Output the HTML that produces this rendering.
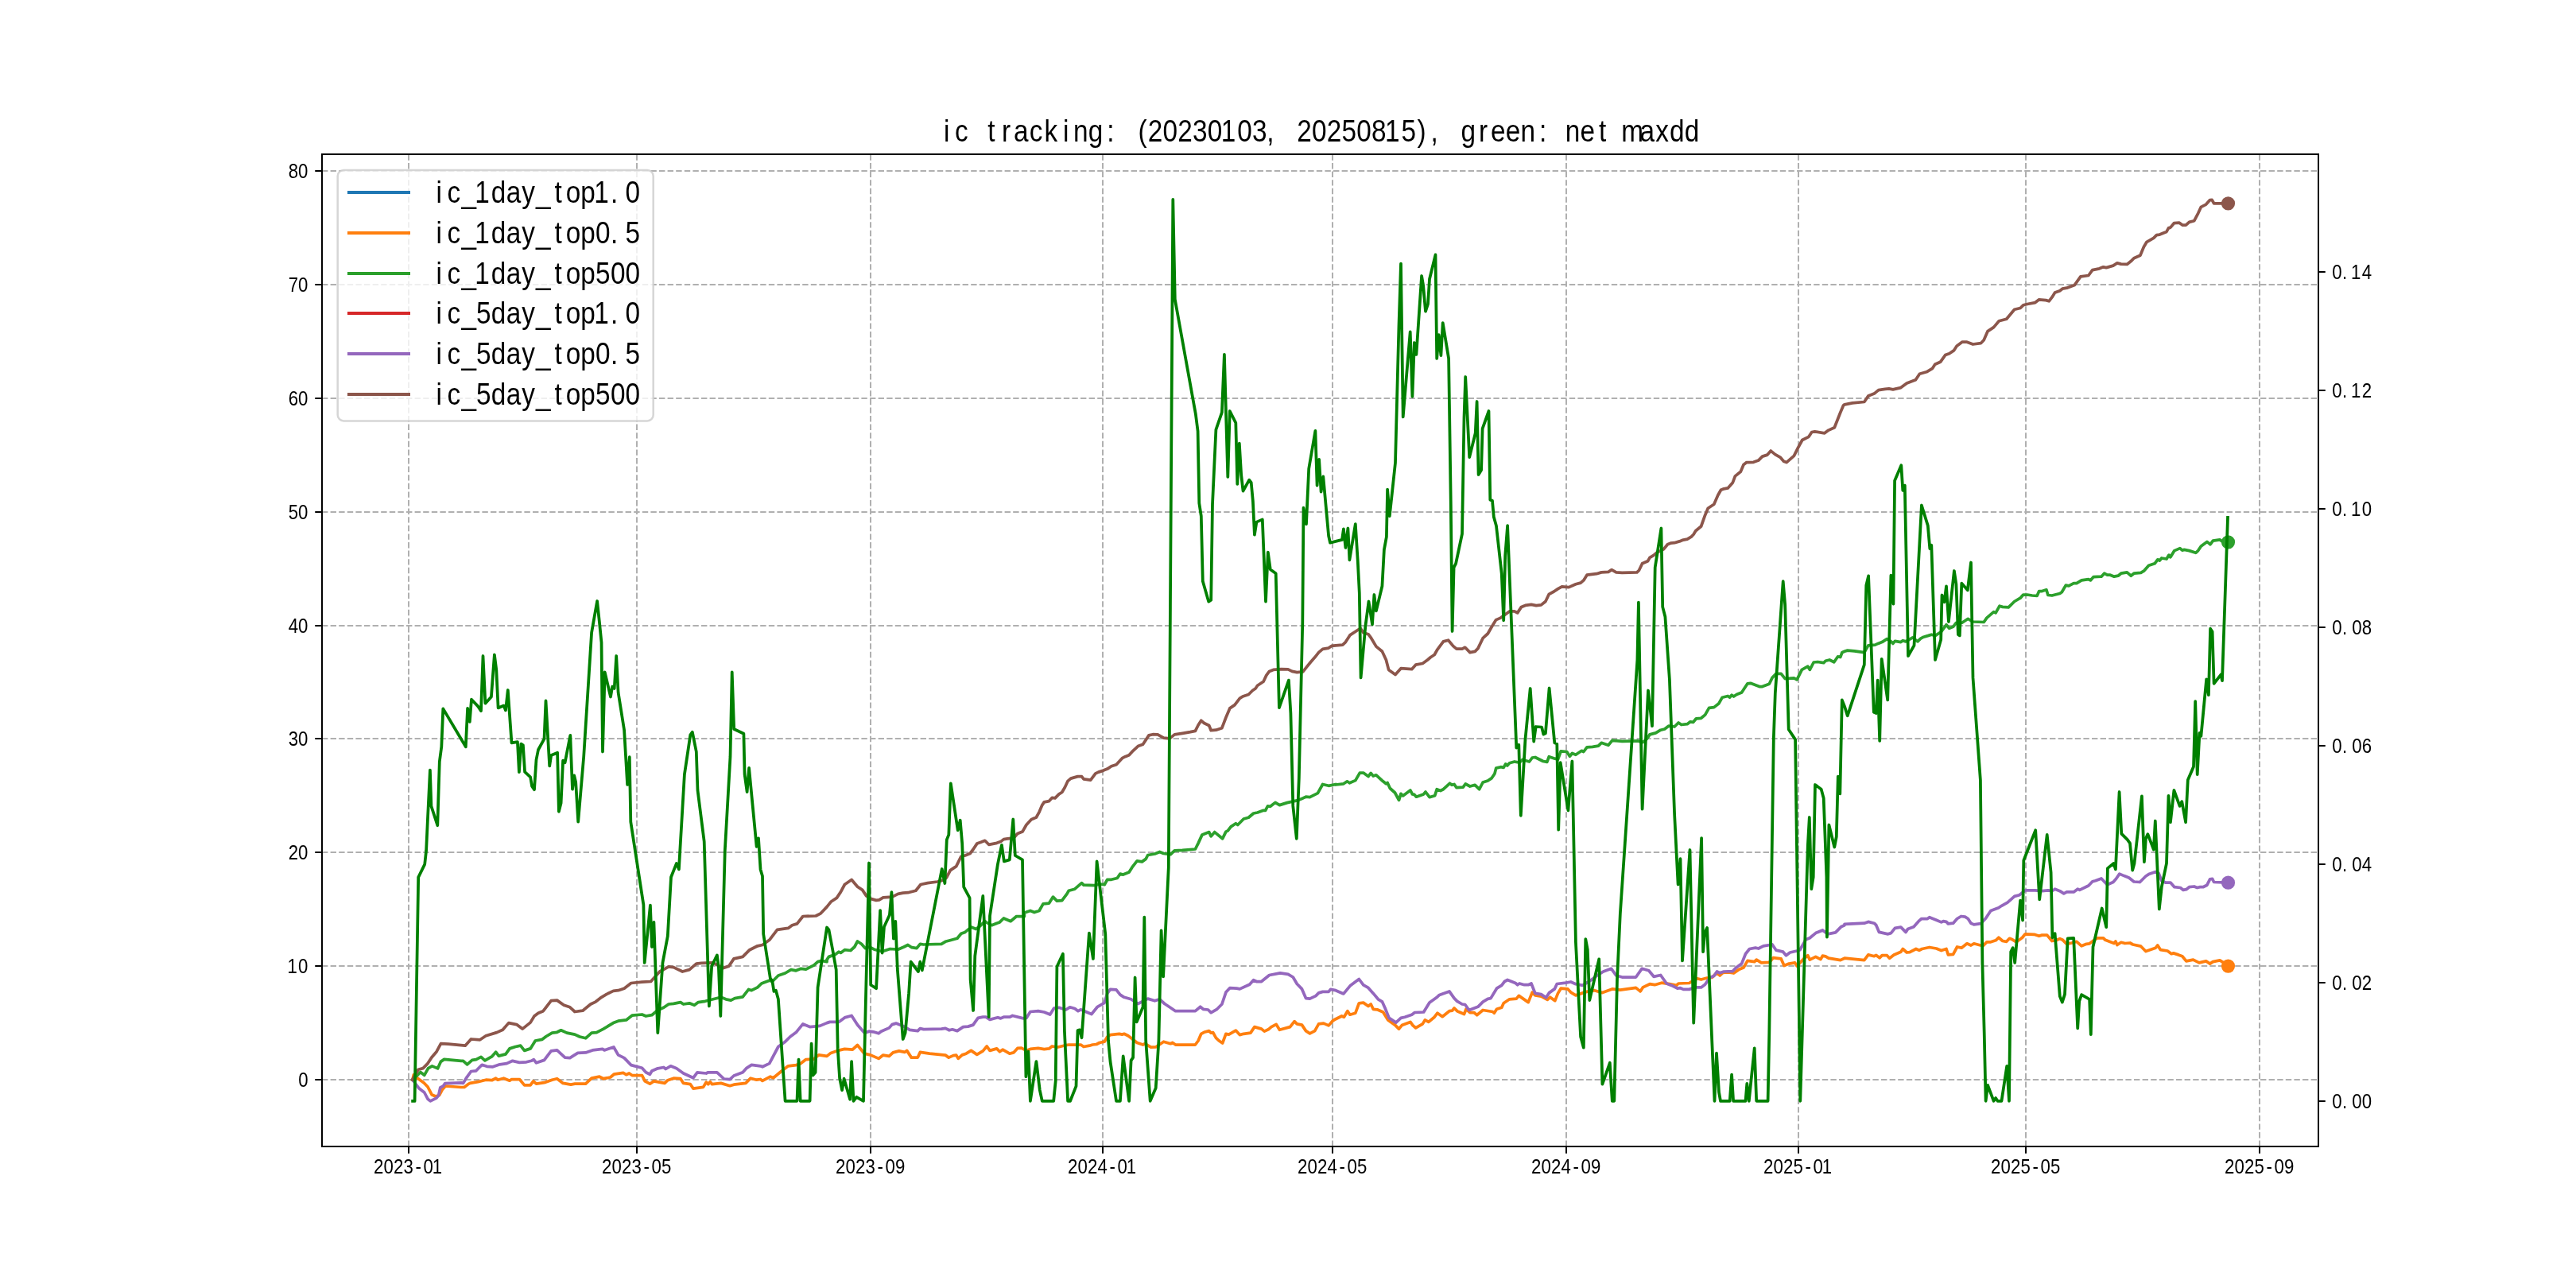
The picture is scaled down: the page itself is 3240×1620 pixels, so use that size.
<!DOCTYPE html>
<html lang="en"><head><meta charset="utf-8"><title>ic tracking</title>
<style>html,body{margin:0;padding:0;background:#fff}svg{display:block;will-change:transform}text{font-family:"Liberation Sans", sans-serif;fill:#000;white-space:pre}</style></head>
<body>
<svg width="3240" height="1620" viewBox="0 0 3240 1620">
<rect width="3240" height="1620" fill="#fff"/>
<g stroke="#b0b0b0" stroke-width="2" stroke-dasharray="7.4 3.2" fill="none">
<path d="M514.0 1442.0 V194.0"/>
<path d="M801.0 1442.0 V194.0"/>
<path d="M1095.0 1442.0 V194.0"/>
<path d="M1387.0 1442.0 V194.0"/>
<path d="M1676.0 1442.0 V194.0"/>
<path d="M1970.0 1442.0 V194.0"/>
<path d="M2262.0 1442.0 V194.0"/>
<path d="M2548.0 1442.0 V194.0"/>
<path d="M2842.0 1442.0 V194.0"/>
<path d="M405.0 1358.0 H2916.0"/>
<path d="M405.0 1215.0 H2916.0"/>
<path d="M405.0 1072.0 H2916.0"/>
<path d="M405.0 929.0 H2916.0"/>
<path d="M405.0 787.0 H2916.0"/>
<path d="M405.0 644.0 H2916.0"/>
<path d="M405.0 501.0 H2916.0"/>
<path d="M405.0 358.0 H2916.0"/>
<path d="M405.0 215.0 H2916.0"/>
</g>
<g fill="none" stroke-width="3.75" stroke-linejoin="round" stroke-linecap="square">
<path stroke="#ff7f0e" d="M518.9 1358.0 L520.3 1351.8 L525.0 1356.0 L533.2 1362.0 L538.0 1367.0 L543.0 1376.7 L547.8 1379.0 L552.5 1377.5 L556.5 1370.2 L560.3 1366.0 L580.0 1367.5 L583.9 1367.4 L588.8 1363.7 L591.3 1362.4 L601.2 1360.7 L611.2 1358.2 L618.6 1358.7 L623.6 1356.2 L626.1 1358.2 L633.5 1356.2 L641.0 1359.2 L643.5 1357.5 L653.4 1357.5 L659.6 1364.9 L667.1 1364.9 L670.8 1359.9 L674.5 1363.2 L684.5 1361.7 L694.4 1358.2 L700.6 1356.7 L708.1 1362.4 L718.0 1364.2 L723.0 1363.2 L736.6 1363.2 L744.1 1356.2 L754.0 1354.2 L759.0 1356.7 L767.7 1355.0 L772.2 1351.2 L783.9 1349.3 L787.6 1351.7 L791.3 1350.0 L795.0 1352.5 L807.5 1352.5 L811.2 1359.9 L817.4 1363.2 L822.4 1359.9 L836.0 1362.4 L839.8 1358.7 L847.2 1356.2 L855.9 1356.7 L859.6 1362.4 L868.3 1363.7 L872.0 1369.1 L884.5 1367.4 L888.2 1361.2 L890.7 1363.7 L893.2 1360.7 L895.7 1363.7 L906.8 1362.4 L918.0 1365.7 L923.0 1364.2 L937.9 1362.4 L944.1 1356.2 L951.6 1358.2 L956.5 1357.5 L959.0 1359.4 L968.9 1354.2 L972.7 1355.7 L982.6 1347.5 L991.3 1340.8 L1001.2 1339.6 L1006.2 1338.3 L1013.7 1332.6 L1023.6 1332.1 L1029.8 1326.9 L1040.0 1328.4 L1040.0 1328.4 L1045.0 1324.4 L1053.7 1321.4 L1062.4 1319.4 L1072.3 1320.2 L1078.5 1314.5 L1087.2 1325.2 L1094.7 1326.9 L1105.1 1331.4 L1110.8 1327.1 L1118.3 1328.4 L1123.2 1323.9 L1130.7 1321.9 L1138.1 1323.4 L1140.6 1321.4 L1146.3 1330.1 L1154.3 1330.1 L1157.3 1323.4 L1169.2 1325.2 L1189.1 1327.1 L1193.3 1330.1 L1199.0 1327.6 L1202.7 1327.1 L1205.2 1331.4 L1210.2 1326.9 L1215.2 1325.2 L1221.4 1321.4 L1228.8 1326.4 L1236.3 1321.9 L1241.2 1316.0 L1245.0 1321.4 L1253.7 1318.9 L1257.4 1322.7 L1261.1 1320.2 L1269.8 1325.2 L1274.8 1323.9 L1279.8 1318.4 L1284.7 1318.2 L1290.9 1321.4 L1295.9 1319.4 L1305.8 1318.4 L1313.3 1319.7 L1319.5 1318.9 L1323.2 1316.0 L1330.7 1317.0 L1338.1 1315.2 L1344.3 1314.0 L1359.3 1314.0 L1363.0 1316.5 L1370.4 1315.2 L1374.2 1314.0 L1379.1 1313.5 L1382.9 1311.5 L1389.1 1310.2 L1392.8 1304.0 L1396.5 1301.6 L1407.7 1300.3 L1411.4 1301.1 L1413.9 1300.3 L1418.9 1302.8 L1423.9 1306.5 L1430.1 1311.5 L1437.5 1314.0 L1440.0 1312.7 L1447.5 1317.2 L1453.7 1317.0 L1459.9 1312.7 L1463.6 1310.2 L1472.3 1312.7 L1474.8 1311.5 L1478.5 1314.0 L1503.4 1314.0 L1507.1 1309.0 L1510.8 1300.3 L1514.5 1298.3 L1520.7 1296.6 L1523.2 1299.1 L1525.7 1298.6 L1529.4 1305.3 L1533.2 1309.0 L1537.6 1312.0 L1541.9 1300.3 L1545.6 1301.1 L1554.3 1296.1 L1559.3 1301.6 L1564.2 1300.3 L1572.9 1299.1 L1577.9 1291.6 L1586.6 1294.1 L1590.3 1297.1 L1595.3 1294.8 L1599.0 1291.6 L1605.2 1288.4 L1609.4 1295.3 L1622.6 1291.6 L1628.1 1284.7 L1631.3 1287.9 L1637.5 1289.1 L1642.5 1296.6 L1647.5 1299.8 L1653.7 1296.6 L1658.6 1287.9 L1664.8 1287.1 L1671.1 1289.9 L1676.0 1284.2 L1680.0 1281.7 L1680.0 1281.7 L1687.5 1278.0 L1690.4 1279.2 L1694.9 1271.7 L1697.9 1276.2 L1704.8 1274.2 L1709.3 1261.8 L1714.8 1261.1 L1721.0 1265.5 L1724.2 1263.0 L1727.2 1269.3 L1732.2 1269.8 L1739.6 1273.0 L1745.8 1282.9 L1754.5 1289.1 L1759.5 1294.1 L1763.2 1289.6 L1773.9 1285.4 L1776.9 1289.6 L1780.6 1292.9 L1789.3 1287.9 L1792.3 1282.9 L1796.8 1285.4 L1804.2 1279.2 L1808.0 1274.2 L1814.2 1278.7 L1822.9 1271.7 L1826.6 1271.2 L1829.1 1268.0 L1832.8 1271.7 L1841.5 1275.5 L1844.0 1269.3 L1848.9 1273.5 L1853.9 1273.5 L1857.6 1276.7 L1865.1 1270.5 L1877.5 1272.5 L1879.3 1274.2 L1882.5 1269.3 L1888.7 1267.3 L1891.2 1261.8 L1898.6 1256.8 L1907.3 1256.1 L1910.3 1252.4 L1922.2 1260.6 L1927.2 1248.1 L1930.9 1251.9 L1938.4 1253.1 L1946.3 1257.3 L1949.6 1254.3 L1955.8 1258.6 L1959.5 1249.4 L1963.2 1243.2 L1971.9 1243.9 L1975.7 1248.1 L1981.9 1251.9 L1989.3 1249.4 L1995.5 1247.4 L2005.5 1245.7 L2015.4 1248.6 L2027.8 1243.9 L2037.8 1245.2 L2057.6 1242.4 L2063.1 1246.9 L2066.3 1241.9 L2075.0 1237.7 L2081.2 1238.7 L2089.9 1236.2 L2099.9 1237.7 L2108.6 1239.4 L2111.1 1237.0 L2124.7 1236.5 L2129.7 1233.2 L2134.7 1230.7 L2139.6 1232.0 L2147.1 1230.0 L2153.3 1229.5 L2159.5 1223.3 L2163.2 1227.0 L2167.0 1223.3 L2174.4 1222.8 L2180.6 1224.0 L2186.8 1219.6 L2193.0 1217.1 L2198.0 1208.4 L2206.7 1209.6 L2209.2 1207.1 L2215.4 1210.9 L2225.3 1210.4 L2230.3 1204.7 L2240.2 1205.9 L2244.0 1214.6 L2250.2 1212.1 L2257.6 1210.9 L2260.1 1215.1 L2268.8 1205.9 L2273.8 1201.7 L2276.3 1207.1 L2283.7 1203.4 L2289.9 1206.6 L2292.4 1202.2 L2296.1 1202.9 L2299.9 1205.2 L2314.8 1207.6 L2320.0 1205.2 L2320.0 1205.2 L2344.8 1207.6 L2349.8 1200.9 L2357.3 1202.7 L2359.8 1201.4 L2364.2 1204.7 L2367.2 1201.7 L2373.4 1201.7 L2376.6 1205.2 L2382.1 1200.9 L2390.8 1197.2 L2393.3 1193.5 L2398.3 1198.0 L2402.0 1197.7 L2409.9 1193.5 L2413.9 1195.2 L2417.4 1193.5 L2426.8 1191.5 L2435.5 1193.0 L2441.7 1195.5 L2448.0 1193.5 L2450.4 1200.9 L2456.6 1200.4 L2461.6 1191.0 L2467.1 1192.2 L2474.0 1186.8 L2479.0 1189.0 L2482.7 1186.8 L2493.9 1189.8 L2498.9 1184.8 L2503.9 1184.8 L2510.1 1182.8 L2513.8 1179.3 L2518.8 1183.5 L2523.7 1184.3 L2527.5 1180.3 L2531.2 1181.8 L2536.1 1184.8 L2543.6 1179.3 L2547.3 1174.8 L2558.5 1175.3 L2564.7 1177.3 L2568.4 1176.1 L2574.7 1176.1 L2580.9 1183.5 L2587.1 1182.3 L2590.8 1180.6 L2594.5 1182.3 L2599.5 1187.3 L2605.7 1186.0 L2611.9 1184.3 L2618.1 1189.8 L2624.3 1187.3 L2628.1 1186.8 L2634.3 1182.3 L2638.0 1179.8 L2645.5 1179.8 L2648.0 1182.3 L2659.1 1186.5 L2660.9 1184.0 L2662.9 1188.5 L2667.8 1185.3 L2672.8 1186.5 L2679.0 1186.0 L2682.7 1188.0 L2692.7 1190.2 L2698.9 1196.5 L2707.6 1193.5 L2711.3 1192.2 L2713.8 1189.0 L2717.5 1194.7 L2726.2 1196.0 L2731.2 1199.7 L2733.7 1198.9 L2739.9 1200.9 L2744.8 1202.7 L2749.8 1208.9 L2758.5 1207.1 L2766.0 1210.9 L2774.7 1208.9 L2779.6 1212.1 L2783.4 1209.6 L2792.0 1207.9 L2797.0 1210.9 L2802.5 1215.1"/>
<path stroke="#2ca02c" d="M518.9 1358.0 L524.5 1352.8 L528.8 1348.5 L533.7 1352.3 L538.6 1343.6 L543.5 1340.9 L550.5 1343.9 L554.3 1335.4 L558.7 1332.4 L580.0 1334.3 L582.6 1334.3 L587.6 1338.8 L593.8 1333.4 L598.8 1332.6 L605.0 1329.4 L609.9 1333.9 L618.6 1328.9 L623.6 1323.2 L627.3 1328.1 L636.0 1325.9 L641.0 1318.9 L648.4 1316.5 L654.7 1315.2 L659.6 1321.4 L667.1 1318.9 L673.3 1309.0 L682.0 1307.3 L687.0 1303.5 L694.4 1299.1 L700.6 1298.3 L705.6 1295.8 L713.0 1299.1 L723.0 1301.1 L729.2 1304.0 L736.6 1305.8 L744.1 1299.1 L750.3 1298.6 L759.0 1294.1 L771.4 1286.6 L777.6 1284.2 L787.6 1282.9 L795.0 1277.2 L807.5 1276.0 L812.4 1278.0 L819.9 1276.7 L827.3 1270.5 L834.8 1267.3 L841.0 1263.0 L847.2 1262.3 L855.9 1260.6 L859.6 1263.0 L867.1 1261.8 L873.3 1264.3 L878.3 1260.6 L887.0 1259.3 L896.9 1256.8 L906.8 1254.3 L913.0 1256.8 L919.3 1258.1 L924.2 1255.6 L934.2 1253.9 L941.6 1244.4 L945.3 1245.7 L952.8 1241.9 L957.8 1237.0 L967.7 1233.2 L971.4 1234.5 L978.9 1227.0 L987.6 1224.0 L995.0 1219.6 L1001.2 1220.8 L1007.5 1218.3 L1013.7 1219.1 L1023.6 1214.1 L1028.6 1209.6 L1033.5 1208.4 L1040.0 1209.6 L1040.0 1207.1 L1042.5 1203.4 L1049.9 1200.9 L1054.9 1197.2 L1057.4 1198.4 L1062.4 1194.7 L1069.8 1195.5 L1074.8 1191.0 L1078.5 1184.0 L1083.5 1187.3 L1088.4 1192.7 L1093.4 1191.0 L1099.6 1194.2 L1109.6 1196.7 L1119.5 1193.5 L1129.4 1194.2 L1136.9 1191.0 L1141.9 1188.5 L1146.8 1191.7 L1153.0 1192.7 L1157.3 1187.3 L1161.7 1188.0 L1184.1 1187.3 L1189.1 1184.3 L1194.0 1183.0 L1204.0 1180.3 L1208.9 1174.3 L1213.9 1172.4 L1221.4 1166.1 L1227.6 1168.6 L1232.5 1164.9 L1238.8 1158.7 L1240.0 1159.9 L1247.5 1163.7 L1253.7 1161.2 L1257.4 1159.9 L1262.4 1155.0 L1271.1 1158.7 L1278.5 1152.5 L1288.4 1152.5 L1288.4 1148.0 L1295.9 1145.5 L1300.9 1147.5 L1307.1 1145.5 L1312.0 1136.8 L1319.5 1136.1 L1324.5 1128.1 L1329.4 1133.1 L1335.7 1132.6 L1341.9 1124.4 L1344.3 1120.2 L1351.8 1118.2 L1360.5 1110.7 L1363.0 1113.2 L1376.6 1113.7 L1382.9 1112.0 L1389.1 1112.7 L1392.8 1106.3 L1397.8 1106.3 L1405.2 1104.5 L1408.9 1099.1 L1412.7 1100.1 L1420.1 1097.1 L1423.9 1090.9 L1430.1 1082.9 L1436.3 1083.9 L1441.2 1080.4 L1443.7 1075.5 L1452.4 1074.0 L1458.6 1071.5 L1463.6 1073.5 L1472.3 1074.7 L1477.3 1069.8 L1487.2 1069.3 L1503.4 1068.0 L1507.1 1060.6 L1512.0 1049.9 L1517.0 1047.9 L1520.7 1046.6 L1523.2 1051.9 L1527.7 1046.6 L1537.6 1054.8 L1541.9 1046.1 L1544.3 1044.9 L1548.1 1039.9 L1554.3 1035.7 L1556.8 1037.5 L1564.2 1030.0 L1570.4 1028.3 L1576.6 1023.0 L1581.6 1022.0 L1589.1 1019.3 L1591.6 1019.3 L1594.5 1013.9 L1597.8 1014.3 L1604.0 1009.4 L1609.4 1012.6 L1618.9 1009.6 L1631.3 1006.9 L1638.8 1003.9 L1642.5 1002.2 L1647.5 1002.7 L1657.4 997.7 L1663.6 986.5 L1671.1 988.3 L1680.0 986.5 L1680.0 987.0 L1689.9 985.8 L1694.4 982.8 L1697.4 984.8 L1704.8 981.6 L1710.3 972.1 L1714.8 972.1 L1721.0 976.6 L1724.2 972.4 L1727.2 976.1 L1730.9 974.8 L1739.6 982.8 L1743.4 985.8 L1745.1 984.5 L1748.3 991.5 L1754.5 997.0 L1759.5 1006.4 L1762.0 998.4 L1764.5 1000.9 L1773.9 994.0 L1776.4 998.9 L1778.9 999.4 L1781.4 1002.2 L1790.6 998.9 L1793.0 996.0 L1798.0 1002.7 L1804.7 1000.7 L1807.2 992.7 L1811.7 994.5 L1815.4 992.7 L1823.4 985.3 L1826.1 987.3 L1829.1 986.5 L1832.0 990.7 L1840.2 990.2 L1843.2 986.0 L1848.9 989.0 L1855.2 987.3 L1860.6 992.7 L1865.1 984.0 L1871.3 982.0 L1876.3 978.6 L1880.0 972.9 L1881.7 966.1 L1887.5 964.7 L1891.2 965.4 L1893.7 960.9 L1895.7 962.9 L1898.6 959.7 L1904.8 958.0 L1911.1 959.2 L1914.8 955.5 L1923.5 958.0 L1927.2 953.0 L1930.9 952.5 L1940.9 957.5 L1945.8 958.4 L1948.3 951.7 L1955.8 954.2 L1959.5 955.0 L1963.2 944.8 L1970.7 945.5 L1974.4 951.2 L1977.4 947.5 L1981.9 949.3 L1989.3 944.3 L1991.8 945.5 L1996.0 939.8 L2003.0 939.3 L2010.4 938.1 L2014.2 934.3 L2022.9 937.3 L2027.8 931.4 L2040.2 932.4 L2060.1 931.9 L2066.3 933.6 L2071.3 929.4 L2075.0 923.9 L2082.5 921.9 L2088.7 918.2 L2093.7 917.0 L2098.6 913.2 L2106.1 914.0 L2111.1 909.0 L2114.8 911.5 L2122.2 910.7 L2126.0 907.8 L2129.7 908.3 L2133.4 903.8 L2139.6 903.3 L2144.6 899.1 L2149.6 890.4 L2155.8 889.6 L2162.0 884.7 L2166.2 877.2 L2173.2 875.5 L2175.7 877.2 L2178.1 874.2 L2180.6 876.0 L2184.3 873.5 L2190.6 871.0 L2198.0 859.8 L2201.7 859.3 L2212.9 863.5 L2216.6 863.5 L2225.3 860.3 L2229.1 852.4 L2234.0 847.4 L2240.2 847.4 L2245.2 853.6 L2256.4 852.9 L2260.1 854.8 L2266.3 842.4 L2273.8 838.2 L2276.3 842.4 L2281.2 833.0 L2286.2 832.5 L2293.7 833.7 L2296.1 831.2 L2301.1 830.0 L2306.8 832.7 L2311.6 825.8 L2314.8 826.5 L2316.8 820.8 L2320.0 819.3 L2323.7 818.1 L2332.4 818.8 L2344.8 820.6 L2349.8 811.9 L2358.5 811.1 L2362.2 809.4 L2367.2 807.6 L2373.4 803.7 L2378.4 806.9 L2380.9 809.4 L2383.4 806.4 L2390.8 807.6 L2393.3 805.7 L2397.0 806.9 L2405.7 801.9 L2408.2 803.9 L2411.9 806.9 L2415.7 803.2 L2419.4 801.2 L2425.6 799.4 L2429.3 798.2 L2434.3 799.4 L2441.7 794.5 L2448.0 785.8 L2451.7 790.2 L2456.6 788.3 L2460.4 783.3 L2467.8 783.3 L2475.3 778.3 L2481.5 782.0 L2495.2 782.5 L2498.9 777.1 L2507.6 769.6 L2510.1 770.9 L2515.0 762.2 L2518.8 763.4 L2526.2 763.9 L2533.7 756.5 L2541.1 752.2 L2544.8 748.0 L2549.8 748.0 L2556.0 749.0 L2562.2 749.3 L2564.7 743.5 L2568.4 743.5 L2573.9 741.8 L2575.9 748.5 L2580.9 749.0 L2590.8 746.5 L2593.3 744.8 L2598.3 736.1 L2602.0 736.8 L2608.2 733.6 L2611.9 733.6 L2618.1 729.9 L2626.8 728.6 L2629.3 729.9 L2633.0 725.7 L2643.0 725.2 L2646.7 721.2 L2650.4 723.2 L2654.2 723.2 L2659.1 725.2 L2664.1 724.2 L2667.8 721.2 L2675.3 719.9 L2680.2 724.2 L2684.0 721.2 L2692.7 720.4 L2696.4 718.2 L2702.6 711.2 L2710.1 708.8 L2713.8 703.8 L2716.3 705.0 L2718.8 702.0 L2725.0 703.0 L2728.0 698.1 L2729.9 700.8 L2734.9 692.6 L2741.9 689.6 L2744.8 692.1 L2747.3 691.4 L2753.5 692.6 L2761.7 695.3 L2764.7 692.6 L2768.4 686.9 L2775.9 681.4 L2780.1 684.7 L2783.4 680.2 L2792.0 678.9 L2795.8 681.4 L2802.5 681.9"/>
<path stroke="#9467bd" d="M518.9 1358.0 L523.9 1364.8 L527.2 1369.1 L533.7 1374.0 L538.0 1382.2 L541.3 1384.9 L548.9 1381.1 L551.6 1377.8 L553.8 1368.0 L557.6 1365.9 L559.8 1362.6 L580.0 1361.8 L582.6 1362.4 L586.3 1356.2 L592.5 1347.5 L598.8 1346.8 L606.2 1339.3 L612.4 1341.3 L619.9 1341.8 L628.6 1338.8 L637.3 1337.6 L644.7 1334.3 L653.4 1336.3 L662.1 1335.8 L668.3 1334.3 L671.3 1332.6 L674.5 1336.8 L684.5 1333.4 L693.2 1321.9 L700.6 1320.9 L710.6 1330.1 L716.8 1330.6 L726.7 1324.4 L736.6 1323.9 L745.3 1320.9 L757.8 1319.4 L760.2 1320.9 L771.9 1317.0 L777.6 1326.9 L785.1 1330.6 L793.8 1339.6 L807.5 1343.3 L812.4 1348.8 L817.4 1351.2 L819.9 1347.0 L827.3 1343.8 L834.8 1342.5 L837.3 1344.5 L843.5 1340.8 L850.9 1343.8 L859.6 1350.0 L872.0 1355.7 L877.0 1348.8 L888.2 1350.0 L890.7 1348.8 L901.9 1348.8 L910.6 1357.0 L918.0 1357.7 L923.0 1353.0 L934.2 1348.8 L939.1 1343.3 L945.3 1339.3 L956.5 1340.8 L959.0 1341.8 L967.7 1337.6 L978.9 1316.5 L987.6 1310.2 L993.8 1304.0 L1001.2 1298.6 L1009.9 1287.9 L1018.6 1291.6 L1031.1 1290.4 L1040.0 1286.6 L1040.0 1286.6 L1043.7 1285.4 L1054.9 1285.4 L1062.4 1279.9 L1071.1 1277.5 L1078.5 1289.1 L1087.2 1299.1 L1093.4 1297.1 L1098.4 1297.8 L1105.1 1299.8 L1108.3 1297.3 L1118.3 1292.9 L1122.0 1288.6 L1127.0 1287.1 L1130.7 1288.6 L1135.7 1290.4 L1144.3 1295.3 L1154.3 1296.6 L1157.3 1293.6 L1161.7 1294.6 L1184.1 1294.1 L1189.1 1293.4 L1194.0 1295.8 L1197.8 1294.8 L1204.0 1296.6 L1211.4 1291.6 L1217.6 1291.1 L1223.9 1289.1 L1230.1 1280.4 L1236.3 1279.2 L1240.0 1279.2 L1245.0 1282.4 L1254.9 1279.7 L1258.6 1280.9 L1262.4 1279.2 L1269.8 1279.2 L1273.5 1277.5 L1287.2 1280.9 L1290.9 1280.4 L1295.9 1272.5 L1305.8 1271.7 L1313.3 1273.0 L1320.7 1276.0 L1325.7 1268.0 L1331.9 1267.3 L1340.6 1270.0 L1345.6 1266.8 L1351.8 1268.5 L1356.0 1271.7 L1359.3 1269.8 L1368.0 1273.5 L1372.9 1275.5 L1380.4 1266.3 L1389.1 1261.3 L1392.8 1249.4 L1396.5 1244.4 L1404.0 1244.9 L1408.9 1251.1 L1413.9 1254.3 L1422.6 1256.8 L1431.3 1262.5 L1437.5 1259.3 L1443.7 1256.1 L1452.4 1258.8 L1458.6 1256.8 L1464.8 1262.5 L1472.3 1267.5 L1478.5 1271.7 L1503.4 1271.7 L1509.6 1266.3 L1513.3 1269.3 L1519.5 1270.0 L1523.2 1273.7 L1530.7 1269.3 L1536.9 1263.0 L1541.9 1248.1 L1546.8 1242.7 L1555.5 1243.2 L1559.3 1243.9 L1571.7 1238.2 L1576.6 1232.7 L1580.4 1234.5 L1586.6 1234.5 L1596.5 1226.5 L1610.2 1223.8 L1620.1 1225.3 L1626.3 1229.0 L1631.3 1237.5 L1637.5 1243.9 L1642.5 1255.6 L1647.5 1256.1 L1654.9 1252.6 L1658.6 1248.9 L1663.6 1247.4 L1671.1 1247.4 L1673.5 1244.4 L1680.0 1245.7 L1680.0 1245.7 L1689.9 1249.9 L1698.6 1239.4 L1709.3 1231.5 L1714.8 1238.9 L1721.0 1242.4 L1727.2 1249.4 L1733.4 1256.8 L1738.4 1259.8 L1742.1 1268.0 L1747.1 1280.4 L1755.8 1286.1 L1762.0 1280.4 L1767.0 1279.2 L1775.7 1276.2 L1779.4 1273.5 L1790.6 1273.0 L1798.0 1261.1 L1806.7 1254.8 L1810.4 1251.4 L1822.9 1246.9 L1829.1 1255.6 L1832.8 1259.3 L1839.0 1263.0 L1842.7 1263.5 L1847.7 1270.5 L1858.9 1266.3 L1865.1 1260.1 L1871.3 1256.3 L1875.0 1255.6 L1882.5 1243.2 L1888.7 1239.4 L1892.4 1234.5 L1896.1 1232.5 L1906.1 1236.5 L1908.6 1238.7 L1911.1 1237.0 L1917.3 1238.7 L1922.2 1238.7 L1926.0 1237.0 L1930.9 1249.4 L1938.4 1250.6 L1944.6 1254.8 L1948.3 1248.9 L1955.3 1243.9 L1958.3 1237.5 L1969.4 1236.2 L1975.7 1235.0 L1981.9 1237.7 L1990.6 1239.4 L2000.5 1233.2 L2008.0 1227.5 L2016.6 1222.0 L2026.6 1218.3 L2032.8 1227.0 L2040.2 1229.0 L2057.6 1229.0 L2065.1 1218.3 L2073.8 1220.8 L2080.0 1228.3 L2088.7 1226.5 L2096.1 1237.0 L2102.4 1239.4 L2109.8 1243.2 L2113.5 1242.7 L2117.3 1244.4 L2124.7 1244.4 L2132.2 1241.9 L2139.6 1241.9 L2144.6 1238.2 L2150.8 1229.5 L2155.8 1227.5 L2159.5 1222.0 L2163.2 1223.8 L2168.2 1222.0 L2179.4 1221.6 L2183.1 1217.6 L2190.6 1212.1 L2195.5 1199.7 L2200.5 1193.5 L2208.0 1192.2 L2211.7 1193.0 L2217.9 1189.8 L2229.1 1188.0 L2234.0 1195.2 L2242.7 1197.2 L2246.5 1201.7 L2251.4 1198.0 L2260.1 1196.0 L2263.9 1194.7 L2271.3 1181.8 L2276.3 1179.8 L2283.7 1173.6 L2292.4 1169.9 L2298.6 1174.8 L2308.6 1172.9 L2316.0 1165.4 L2320.0 1163.7 L2320.0 1162.4 L2344.8 1161.2 L2349.8 1159.4 L2357.3 1161.2 L2359.8 1163.7 L2363.5 1172.4 L2374.7 1174.8 L2378.4 1173.6 L2383.4 1167.4 L2390.8 1166.1 L2397.0 1172.4 L2399.5 1168.6 L2407.0 1165.7 L2413.2 1158.7 L2416.9 1155.5 L2424.3 1155.5 L2426.8 1153.7 L2434.3 1156.7 L2441.7 1159.9 L2444.2 1158.7 L2448.0 1159.4 L2450.4 1161.9 L2456.6 1161.2 L2461.6 1155.5 L2466.6 1152.5 L2471.6 1153.2 L2475.3 1155.5 L2479.0 1161.2 L2482.7 1162.9 L2491.4 1161.7 L2497.6 1155.0 L2503.9 1145.5 L2513.8 1141.8 L2517.5 1139.3 L2525.0 1135.1 L2528.7 1131.9 L2533.7 1127.4 L2539.9 1125.7 L2547.3 1119.9 L2559.8 1119.9 L2568.4 1120.7 L2575.9 1119.9 L2580.9 1120.7 L2584.6 1118.2 L2590.8 1120.7 L2595.8 1123.9 L2599.5 1121.9 L2608.2 1121.9 L2613.2 1118.2 L2615.7 1119.4 L2626.8 1114.0 L2631.8 1108.8 L2635.5 1107.8 L2643.0 1105.0 L2650.4 1112.7 L2657.9 1109.5 L2661.6 1105.3 L2665.8 1099.1 L2671.6 1101.6 L2677.8 1104.0 L2684.0 1109.0 L2691.4 1109.5 L2698.9 1102.0 L2702.6 1099.6 L2711.3 1096.6 L2715.0 1098.3 L2718.8 1107.8 L2723.7 1110.0 L2729.9 1110.0 L2734.9 1115.7 L2742.4 1116.5 L2746.1 1119.4 L2749.8 1118.7 L2753.5 1115.7 L2759.8 1115.0 L2763.5 1116.5 L2767.2 1115.7 L2770.9 1115.7 L2775.9 1113.2 L2779.6 1105.8 L2782.6 1105.3 L2784.6 1109.5 L2802.5 1110.2"/>
<path stroke="#8c564b" d="M518.9 1358.0 L523.5 1349.5 L526.1 1345.2 L532.1 1343.6 L538.0 1337.6 L542.9 1330.0 L549.1 1322.7 L554.5 1312.7 L564.0 1313.2 L585.1 1315.2 L592.5 1307.0 L603.7 1307.8 L611.2 1302.8 L624.8 1298.6 L632.3 1295.3 L639.8 1286.6 L649.7 1288.6 L657.1 1294.1 L667.1 1286.1 L672.0 1278.0 L677.0 1274.2 L683.2 1271.7 L693.2 1258.6 L700.6 1258.1 L709.3 1264.3 L716.8 1266.8 L723.0 1272.5 L732.9 1271.2 L742.9 1263.0 L749.1 1260.1 L756.5 1254.3 L762.7 1250.6 L771.4 1246.4 L777.6 1245.7 L785.1 1243.2 L793.8 1236.5 L807.5 1235.2 L818.6 1234.5 L829.8 1222.0 L841.0 1215.8 L847.2 1216.6 L858.4 1222.0 L867.1 1219.6 L875.8 1212.1 L882.0 1211.4 L896.9 1210.9 L909.3 1217.6 L916.8 1215.1 L923.0 1205.9 L934.2 1203.4 L942.9 1194.7 L952.8 1189.8 L959.0 1188.5 L967.7 1182.3 L977.6 1169.4 L991.3 1167.4 L996.3 1163.7 L1002.5 1161.9 L1009.9 1152.5 L1026.1 1152.0 L1032.3 1148.8 L1040.0 1140.6 L1045.0 1134.3 L1052.4 1129.4 L1057.4 1121.9 L1062.4 1112.5 L1071.1 1106.5 L1078.5 1115.2 L1084.7 1119.4 L1089.7 1126.9 L1095.9 1130.6 L1102.1 1132.4 L1105.8 1131.9 L1110.8 1128.9 L1122.0 1128.1 L1129.4 1124.4 L1135.7 1123.2 L1141.9 1122.7 L1151.8 1120.2 L1158.0 1112.5 L1166.7 1110.7 L1179.1 1109.0 L1186.6 1107.0 L1190.3 1104.0 L1195.3 1094.6 L1202.7 1089.6 L1208.9 1077.2 L1213.9 1076.0 L1220.1 1073.5 L1223.9 1068.5 L1228.8 1061.1 L1233.8 1059.3 L1238.8 1057.3 L1243.7 1062.3 L1253.7 1060.3 L1258.6 1058.6 L1262.4 1055.6 L1267.3 1054.8 L1274.8 1054.3 L1279.8 1048.6 L1286.0 1046.1 L1290.9 1037.5 L1297.1 1030.7 L1303.4 1028.0 L1307.1 1021.3 L1310.8 1012.6 L1313.3 1008.9 L1319.5 1007.6 L1323.2 1003.4 L1327.0 1003.9 L1331.9 998.9 L1335.7 996.5 L1339.4 990.2 L1343.1 982.3 L1346.8 979.1 L1355.5 976.6 L1360.5 976.6 L1363.0 979.8 L1371.7 981.1 L1377.9 972.9 L1381.6 971.1 L1387.8 969.1 L1392.8 967.1 L1397.8 963.7 L1404.0 961.7 L1411.4 953.7 L1415.2 951.7 L1420.1 949.8 L1425.1 944.3 L1431.3 938.6 L1437.5 936.3 L1445.0 924.9 L1449.9 923.7 L1456.1 923.9 L1463.6 928.1 L1471.1 928.9 L1477.3 923.9 L1487.2 922.4 L1497.1 920.7 L1503.4 919.4 L1507.1 912.0 L1510.8 906.3 L1514.5 909.5 L1520.7 912.5 L1523.2 918.7 L1529.4 918.2 L1536.9 915.7 L1541.9 902.5 L1546.8 890.9 L1553.0 886.6 L1559.3 878.4 L1563.0 876.0 L1570.4 873.5 L1575.4 868.5 L1579.1 866.0 L1581.6 862.3 L1589.1 857.3 L1592.8 849.4 L1596.5 844.4 L1601.5 842.4 L1611.4 841.7 L1620.1 841.9 L1625.1 844.4 L1631.3 845.7 L1638.8 844.9 L1643.7 838.7 L1648.7 832.5 L1653.7 826.8 L1658.6 820.6 L1663.6 816.3 L1671.1 815.1 L1674.8 812.4 L1680.0 811.9 L1680.0 811.9 L1688.7 811.1 L1692.4 807.6 L1697.9 798.9 L1707.3 792.7 L1711.1 790.2 L1714.8 795.7 L1721.0 797.7 L1724.7 802.7 L1730.9 813.1 L1738.4 819.3 L1743.4 830.0 L1746.6 842.4 L1755.0 848.6 L1762.0 840.7 L1775.7 841.7 L1780.6 836.2 L1789.3 834.5 L1795.5 830.0 L1799.3 826.8 L1804.2 823.5 L1808.0 816.8 L1815.4 806.9 L1821.6 805.2 L1827.8 812.6 L1832.0 816.1 L1839.0 816.1 L1842.7 814.3 L1848.9 820.6 L1855.2 819.3 L1858.9 815.6 L1865.1 802.7 L1871.3 797.0 L1876.3 788.3 L1881.7 779.6 L1887.5 777.1 L1892.4 773.4 L1898.6 768.9 L1904.8 768.9 L1908.6 770.9 L1913.5 763.4 L1918.5 761.4 L1926.0 760.4 L1932.2 761.7 L1938.4 760.9 L1943.9 756.5 L1948.3 747.3 L1954.5 744.0 L1959.5 740.6 L1964.5 737.8 L1973.2 738.6 L1981.9 734.8 L1988.1 733.1 L1991.8 729.9 L1996.0 723.2 L2008.0 721.7 L2014.2 719.9 L2022.9 719.4 L2027.1 716.7 L2032.8 719.9 L2040.2 720.4 L2058.9 719.9 L2061.4 717.5 L2065.6 708.8 L2072.5 705.8 L2075.0 701.3 L2080.0 698.3 L2083.7 695.1 L2092.4 690.9 L2097.4 684.7 L2101.1 683.2 L2106.1 682.7 L2112.3 680.9 L2116.0 679.4 L2122.2 678.2 L2127.2 675.2 L2130.2 672.0 L2132.7 667.8 L2139.6 662.0 L2144.6 647.9 L2148.3 639.2 L2155.8 634.2 L2160.7 623.0 L2164.5 616.3 L2168.2 614.8 L2173.2 613.9 L2179.4 606.9 L2182.4 598.9 L2189.3 593.2 L2193.0 584.5 L2196.8 581.6 L2205.5 581.3 L2211.7 579.1 L2216.6 574.1 L2222.9 572.1 L2227.3 567.1 L2232.8 571.6 L2239.0 575.1 L2243.5 580.3 L2247.0 581.6 L2256.4 573.4 L2261.4 563.4 L2266.8 553.5 L2275.0 549.3 L2278.8 543.5 L2282.5 542.8 L2294.9 544.8 L2299.9 541.1 L2307.3 537.8 L2314.8 518.7 L2318.5 510.0 L2320.0 508.8 L2329.9 506.8 L2344.8 505.5 L2349.8 498.1 L2357.3 495.1 L2362.7 490.6 L2370.9 489.4 L2375.9 488.9 L2380.9 489.9 L2390.8 487.6 L2398.3 481.9 L2409.4 477.7 L2414.4 470.2 L2423.1 467.8 L2430.6 463.3 L2433.8 458.3 L2440.5 455.3 L2446.7 446.6 L2451.7 444.7 L2457.4 440.9 L2461.1 435.2 L2467.8 430.2 L2474.0 430.2 L2481.5 433.0 L2491.4 431.7 L2495.2 427.8 L2500.1 416.6 L2507.6 411.6 L2514.3 403.7 L2523.7 401.2 L2533.7 389.3 L2541.1 387.5 L2544.8 383.8 L2549.8 382.5 L2559.8 380.6 L2564.7 376.8 L2573.4 377.6 L2577.1 378.8 L2580.9 373.9 L2584.6 368.1 L2590.8 365.7 L2594.0 363.2 L2599.5 362.2 L2609.4 358.4 L2616.9 347.8 L2626.8 346.5 L2631.8 339.6 L2640.5 337.8 L2645.5 335.8 L2649.2 336.6 L2657.9 334.1 L2662.9 330.9 L2667.8 332.1 L2675.3 332.4 L2680.2 328.6 L2684.0 324.7 L2691.9 321.2 L2696.4 310.5 L2700.1 304.3 L2708.8 299.3 L2712.5 295.6 L2716.3 295.1 L2725.0 291.4 L2727.5 286.9 L2729.9 286.1 L2734.4 280.7 L2741.1 280.2 L2745.3 283.2 L2749.3 283.2 L2753.5 279.4 L2759.8 277.7 L2764.7 268.3 L2768.4 260.3 L2774.7 257.1 L2779.6 251.6 L2782.1 251.4 L2784.6 255.8 L2802.5 255.8"/>
</g>
<circle cx="2802.5" cy="1215.1" r="8.6" fill="#ff7f0e"/>
<circle cx="2802.5" cy="681.9" r="8.6" fill="#2ca02c"/>
<circle cx="2802.5" cy="1110.2" r="8.6" fill="#9467bd"/>
<circle cx="2802.5" cy="255.8" r="8.6" fill="#8c564b"/>
<rect x="424.7" y="214" width="397" height="315.4" rx="7.5" ry="7.5" fill="#fff" fill-opacity="0.8" stroke="#ccc" stroke-opacity="0.8" stroke-width="2.5"/>
<path d="M439 242.0 H514" stroke="#1f77b4" stroke-width="4" stroke-linecap="square" fill="none"/>
<text transform="translate(543.90 254.60) scale(0.880 1)" font-size="37.88" text-anchor="middle" x="9.38 30.68 51.99 71.16 94.60 115.91 137.22 158.52 179.83 201.14 222.44 241.62 259.94 286.36">ic_1day_top1.0</text>
<path d="M439 293.0 H514" stroke="#ff7f0e" stroke-width="4" stroke-linecap="square" fill="none"/>
<text transform="translate(543.90 305.60) scale(0.880 1)" font-size="37.88" text-anchor="middle" x="9.38 30.68 51.99 71.16 94.60 115.91 137.22 158.52 179.83 201.14 222.44 243.75 259.94 286.36">ic_1day_top0.5</text>
<path d="M439 344.0 H514" stroke="#2ca02c" stroke-width="4" stroke-linecap="square" fill="none"/>
<text transform="translate(543.90 356.60) scale(0.880 1)" font-size="37.88" text-anchor="middle" x="9.38 30.68 51.99 71.16 94.60 115.91 137.22 158.52 179.83 201.14 222.44 243.75 265.06 286.36">ic_1day_top500</text>
<path d="M439 394.0 H514" stroke="#d62728" stroke-width="4" stroke-linecap="square" fill="none"/>
<text transform="translate(543.90 406.60) scale(0.880 1)" font-size="37.88" text-anchor="middle" x="9.38 30.68 51.99 73.30 94.60 115.91 137.22 158.52 179.83 201.14 222.44 241.62 259.94 286.36">ic_5day_top1.0</text>
<path d="M439 445.0 H514" stroke="#9467bd" stroke-width="4" stroke-linecap="square" fill="none"/>
<text transform="translate(543.90 457.60) scale(0.880 1)" font-size="37.88" text-anchor="middle" x="9.38 30.68 51.99 73.30 94.60 115.91 137.22 158.52 179.83 201.14 222.44 243.75 259.94 286.36">ic_5day_top0.5</text>
<path d="M439 496.0 H514" stroke="#8c564b" stroke-width="4" stroke-linecap="square" fill="none"/>
<text transform="translate(543.90 508.60) scale(0.880 1)" font-size="37.88" text-anchor="middle" x="9.38 30.68 51.99 73.30 94.60 115.91 137.22 158.52 179.83 201.14 222.44 243.75 265.06 286.36">ic_5day_top500</text>
<path fill="none" stroke="#008000" stroke-width="3.75" stroke-linejoin="round" stroke-linecap="square" d="M519.1 1384.9 L521.6 1384.9 L526.2 1103.3 L534.2 1087.1 L536.1 1069.8 L537.9 1031.2 L540.9 968.6 L542.4 1013.9 L550.3 1038.2 L552.8 958.0 L555.3 939.3 L557.3 891.4 L585.8 939.3 L588.1 890.9 L590.8 907.8 L593.0 879.7 L601.2 888.4 L605.0 894.1 L607.5 825.0 L610.4 884.7 L617.9 876.5 L621.9 823.5 L624.3 842.4 L626.6 890.4 L633.5 887.6 L636.0 893.4 L638.8 868.0 L643.5 934.3 L650.9 933.1 L652.9 971.1 L655.4 935.6 L657.9 937.3 L660.1 970.9 L667.1 977.3 L669.1 989.0 L672.0 993.2 L674.5 955.5 L677.0 943.0 L684.5 929.4 L686.5 881.4 L691.2 963.4 L693.2 950.0 L701.1 946.8 L702.9 1020.8 L705.6 1010.1 L708.1 956.7 L710.6 959.2 L717.3 924.9 L720.0 992.7 L722.2 975.3 L724.2 984.0 L727.2 1033.7 L734.2 951.7 L744.1 795.7 L751.1 756.0 L754.0 783.3 L756.5 808.1 L758.0 945.5 L760.7 845.4 L768.0 876.5 L770.2 863.5 L772.7 866.0 L775.2 825.0 L777.6 871.0 L785.1 918.2 L789.1 987.0 L791.8 952.2 L793.3 1033.7 L809.4 1138.1 L810.7 1210.9 L817.9 1138.6 L819.9 1191.0 L822.4 1159.9 L827.3 1299.1 L833.5 1210.9 L839.8 1177.3 L844.0 1103.3 L850.9 1085.9 L853.9 1093.4 L860.9 974.1 L868.3 924.4 L870.8 920.7 L875.8 945.5 L877.5 994.0 L885.7 1058.6 L891.9 1265.5 L895.2 1215.1 L901.9 1201.4 L903.9 1217.1 L906.3 1278.0 L911.8 1069.8 L918.5 951.7 L920.7 845.4 L923.2 917.0 L935.4 922.7 L936.6 974.1 L939.6 996.0 L942.1 965.9 L951.6 1064.8 L954.0 1054.3 L956.5 1093.4 L959.0 1102.0 L960.2 1174.8 L968.9 1230.7 L971.4 1234.0 L973.4 1246.9 L975.9 1245.7 L978.9 1256.8 L987.6 1384.8 L1002.5 1384.8 L1004.5 1332.6 L1006.7 1384.8 L1018.6 1384.8 L1020.6 1312.7 L1022.4 1352.5 L1025.6 1348.8 L1028.6 1241.9 L1040.0 1166.5 L1042.5 1169.5 L1047.5 1196.0 L1051.7 1219.6 L1053.7 1318.9 L1056.1 1356.2 L1059.1 1371.1 L1061.6 1356.7 L1069.1 1382.8 L1071.1 1335.1 L1073.5 1384.8 L1077.3 1379.8 L1086.0 1384.8 L1088.4 1279.2 L1093.0 1085.5 L1095.2 1238.7 L1102.1 1243.2 L1107.1 1145.2 L1109.6 1198.6 L1112.0 1165.7 L1118.9 1150.7 L1121.4 1122.2 L1123.9 1180.6 L1126.3 1158.8 L1128.8 1219.0 L1135.7 1307.0 L1138.6 1299.1 L1143.1 1249.4 L1145.6 1209.6 L1155.0 1222.0 L1157.3 1209.6 L1159.8 1220.3 L1184.7 1093.0 L1188.4 1111.0 L1190.8 1056.1 L1193.3 1049.9 L1195.8 985.3 L1204.7 1044.2 L1207.7 1031.7 L1210.2 1061.1 L1212.2 1115.7 L1219.6 1129.4 L1220.6 1232.0 L1224.1 1271.0 L1226.3 1202.2 L1236.3 1126.9 L1243.7 1279.2 L1245.0 1152.0 L1254.9 1087.1 L1259.9 1062.8 L1262.9 1083.4 L1269.8 1081.4 L1274.3 1030.5 L1276.8 1076.0 L1286.0 1081.4 L1290.4 1354.2 L1293.4 1322.7 L1295.9 1384.8 L1303.4 1335.1 L1307.8 1371.1 L1310.8 1384.8 L1325.2 1384.8 L1327.7 1359.9 L1329.4 1215.8 L1336.9 1199.7 L1338.9 1296.6 L1343.1 1384.8 L1346.1 1384.8 L1353.5 1366.1 L1355.5 1296.1 L1358.0 1295.3 L1360.5 1305.3 L1369.9 1173.6 L1374.9 1205.9 L1379.6 1083.4 L1390.3 1174.8 L1394.0 1309.0 L1396.5 1335.1 L1404.0 1384.8 L1408.9 1384.8 L1412.7 1328.4 L1420.1 1384.8 L1422.6 1333.9 L1425.1 1330.1 L1427.6 1229.5 L1429.6 1285.4 L1437.5 1266.8 L1439.3 1153.7 L1441.2 1309.0 L1446.7 1384.8 L1453.7 1368.6 L1457.4 1309.0 L1460.6 1170.4 L1463.1 1228.3 L1469.8 1090.9 L1475.3 250.9 L1477.8 376.3 L1503.9 521.2 L1506.6 542.3 L1508.3 633.0 L1510.8 649.1 L1512.8 731.1 L1520.2 756.7 L1523.2 754.7 L1525.0 634.2 L1529.4 540.3 L1536.9 518.7 L1539.9 445.9 L1544.3 599.9 L1546.8 517.0 L1554.3 531.9 L1556.3 608.9 L1558.8 557.7 L1561.2 597.5 L1563.5 617.6 L1571.2 603.7 L1573.7 606.9 L1575.9 630.5 L1577.9 672.7 L1580.4 656.6 L1587.8 653.4 L1592.0 756.7 L1594.8 694.6 L1597.8 716.2 L1604.7 721.2 L1608.9 890.1 L1620.9 855.6 L1623.4 897.1 L1626.3 1013.9 L1630.8 1054.8 L1633.8 979.1 L1638.3 783.3 L1639.5 638.7 L1643.0 659.1 L1646.2 589.5 L1654.4 541.8 L1656.6 610.6 L1659.1 577.8 L1661.6 618.6 L1664.3 599.4 L1671.1 674.0 L1673.0 682.7 L1680.0 680.9 L1680.0 680.9 L1688.0 678.9 L1689.9 665.3 L1692.4 688.9 L1695.4 664.5 L1697.4 704.3 L1704.8 659.1 L1707.8 706.3 L1709.8 746.0 L1711.6 852.4 L1717.3 788.3 L1721.5 756.5 L1726.0 785.3 L1728.4 748.0 L1730.9 768.4 L1738.4 737.3 L1740.9 691.4 L1743.9 675.2 L1745.1 615.6 L1747.8 649.1 L1755.0 582.0 L1759.5 408.6 L1762.0 331.6 L1764.7 524.4 L1773.7 417.3 L1776.4 498.8 L1778.9 431.0 L1781.4 445.9 L1788.1 347.0 L1790.1 358.9 L1793.0 391.7 L1796.0 382.5 L1798.0 351.0 L1805.5 320.4 L1807.2 450.9 L1809.7 421.1 L1812.4 447.1 L1814.7 406.1 L1822.1 450.9 L1824.8 634.2 L1826.6 794.0 L1828.6 713.7 L1831.1 708.8 L1839.0 671.5 L1841.5 524.9 L1843.2 474.0 L1848.2 575.1 L1855.7 544.8 L1857.6 505.0 L1859.6 597.0 L1863.1 591.2 L1864.6 539.1 L1872.5 517.0 L1874.3 628.8 L1877.0 629.8 L1878.8 649.9 L1882.0 661.6 L1888.7 721.2 L1891.2 780.3 L1893.2 698.8 L1896.1 661.1 L1907.3 940.6 L1910.3 936.8 L1912.8 1025.8 L1918.5 929.4 L1924.7 866.0 L1929.2 932.6 L1931.7 914.0 L1939.1 914.5 L1941.4 923.7 L1943.9 922.4 L1948.6 865.5 L1955.3 934.3 L1958.3 935.6 L1960.2 1043.7 L1962.7 959.2 L1972.4 1019.3 L1977.4 957.5 L1981.9 1184.8 L1988.1 1304.0 L1991.8 1317.7 L1994.3 1181.1 L1996.8 1194.7 L1999.3 1258.1 L2011.2 1206.4 L2015.4 1363.7 L2024.8 1336.8 L2027.8 1384.8 L2030.3 1384.8 L2034.0 1232.0 L2037.8 1150.0 L2059.4 830.0 L2060.9 757.7 L2065.6 1017.6 L2073.0 868.5 L2078.0 913.2 L2081.7 713.7 L2089.4 664.5 L2091.2 763.4 L2094.4 775.8 L2099.9 854.8 L2106.1 1023.8 L2110.6 1112.5 L2113.5 1080.2 L2116.0 1208.4 L2125.5 1069.0 L2130.2 1286.6 L2140.1 1054.1 L2142.1 1197.2 L2144.1 1173.6 L2147.1 1166.9 L2156.5 1384.8 L2159.0 1324.7 L2162.0 1373.6 L2164.0 1384.8 L2175.7 1384.8 L2178.1 1351.7 L2180.1 1384.8 L2195.5 1384.8 L2197.3 1362.9 L2199.8 1384.8 L2206.7 1318.4 L2209.2 1384.8 L2223.6 1384.8 L2225.3 1299.1 L2230.8 929.4 L2232.8 872.2 L2242.7 731.1 L2245.2 760.9 L2249.7 917.5 L2258.1 930.1 L2264.3 1384.8 L2273.8 1063.5 L2275.8 1028.0 L2278.3 1118.2 L2280.7 1103.3 L2283.0 987.0 L2290.7 992.7 L2293.7 1003.9 L2297.4 1103.3 L2297.9 1178.6 L2300.4 1037.5 L2307.3 1065.5 L2309.8 1052.4 L2311.8 976.6 L2314.3 998.4 L2316.8 880.4 L2320.0 888.4 L2320.0 888.4 L2323.7 900.3 L2344.8 836.2 L2347.3 736.1 L2350.1 724.4 L2356.8 895.8 L2359.8 897.1 L2361.7 855.6 L2364.2 931.9 L2366.7 828.8 L2374.2 880.4 L2378.4 723.7 L2381.4 759.7 L2383.1 604.4 L2391.3 585.3 L2393.3 616.8 L2395.8 610.6 L2400.0 825.0 L2407.5 811.9 L2416.9 635.5 L2424.8 661.1 L2427.3 690.1 L2429.3 685.7 L2434.0 830.0 L2441.2 804.4 L2442.5 748.5 L2445.5 757.2 L2448.0 737.3 L2450.9 782.0 L2457.9 718.0 L2460.4 734.8 L2462.9 798.2 L2464.8 799.4 L2467.3 733.6 L2474.8 742.3 L2479.0 707.5 L2481.5 852.4 L2490.9 981.1 L2493.4 1212.1 L2495.7 1299.1 L2497.6 1384.8 L2500.1 1364.9 L2507.6 1384.8 L2510.1 1381.1 L2512.5 1384.8 L2517.5 1384.8 L2524.2 1340.8 L2527.0 1384.8 L2529.2 1197.2 L2531.7 1192.2 L2534.2 1210.9 L2541.1 1132.6 L2544.1 1157.5 L2545.3 1082.2 L2560.2 1044.2 L2565.2 1131.4 L2574.7 1049.9 L2579.6 1097.1 L2581.4 1179.3 L2584.6 1174.1 L2590.8 1253.1 L2593.8 1260.6 L2597.0 1250.6 L2600.7 1180.3 L2608.2 1179.8 L2613.2 1293.4 L2615.2 1259.3 L2618.1 1251.1 L2628.1 1256.8 L2629.8 1301.1 L2632.5 1191.0 L2643.7 1142.5 L2649.2 1166.1 L2650.9 1092.1 L2658.4 1085.9 L2660.9 1093.4 L2665.6 996.0 L2668.3 1048.6 L2675.8 1056.1 L2679.0 1060.6 L2682.2 1094.6 L2684.5 1085.9 L2693.9 1001.4 L2696.9 1084.2 L2698.9 1054.8 L2701.4 1049.1 L2708.8 1068.5 L2710.8 1032.5 L2715.8 1143.5 L2718.8 1115.7 L2725.0 1085.9 L2727.5 1000.9 L2729.9 1034.2 L2734.4 994.0 L2741.6 1013.9 L2744.3 1008.1 L2749.1 1034.2 L2751.8 981.1 L2759.0 964.2 L2761.2 882.2 L2763.7 974.1 L2766.5 921.9 L2768.4 925.7 L2775.2 854.3 L2777.9 874.2 L2780.1 790.7 L2782.6 794.5 L2784.6 859.8 L2793.3 848.6 L2795.0 856.1 L2802.0 650.9"/>
<rect x="405.0" y="194.0" width="2511.0" height="1248.0" fill="none" stroke="#000" stroke-width="2"/>
<g stroke="#000" stroke-width="2" fill="none">
<path d="M405.0 1358.0 h-8.75"/>
<path d="M405.0 1215.0 h-8.75"/>
<path d="M405.0 1072.0 h-8.75"/>
<path d="M405.0 929.0 h-8.75"/>
<path d="M405.0 787.0 h-8.75"/>
<path d="M405.0 644.0 h-8.75"/>
<path d="M405.0 501.0 h-8.75"/>
<path d="M405.0 358.0 h-8.75"/>
<path d="M405.0 215.0 h-8.75"/>
<path d="M2916.0 1385.0 h8.75"/>
<path d="M2916.0 1236.0 h8.75"/>
<path d="M2916.0 1087.0 h8.75"/>
<path d="M2916.0 938.0 h8.75"/>
<path d="M2916.0 789.0 h8.75"/>
<path d="M2916.0 640.0 h8.75"/>
<path d="M2916.0 491.0 h8.75"/>
<path d="M2916.0 342.0 h8.75"/>
<path d="M514.0 1442.0 v8.75"/>
<path d="M801.0 1442.0 v8.75"/>
<path d="M1095.0 1442.0 v8.75"/>
<path d="M1387.0 1442.0 v8.75"/>
<path d="M1676.0 1442.0 v8.75"/>
<path d="M1970.0 1442.0 v8.75"/>
<path d="M2262.0 1442.0 v8.75"/>
<path d="M2548.0 1442.0 v8.75"/>
<path d="M2842.0 1442.0 v8.75"/>
</g>
<text transform="translate(375.80 1366.90) scale(0.880 1)" font-size="25.25" text-anchor="middle" x="6.25">0</text>
<text transform="translate(363.30 1223.90) scale(0.880 1)" font-size="25.25" text-anchor="middle" x="4.83 20.45">10</text>
<text transform="translate(363.30 1080.90) scale(0.880 1)" font-size="25.25" text-anchor="middle" x="6.25 20.45">20</text>
<text transform="translate(363.30 937.90) scale(0.880 1)" font-size="25.25" text-anchor="middle" x="6.25 20.45">30</text>
<text transform="translate(363.30 795.90) scale(0.880 1)" font-size="25.25" text-anchor="middle" x="6.25 20.45">40</text>
<text transform="translate(363.30 652.90) scale(0.880 1)" font-size="25.25" text-anchor="middle" x="6.25 20.45">50</text>
<text transform="translate(363.30 509.90) scale(0.880 1)" font-size="25.25" text-anchor="middle" x="6.25 20.45">60</text>
<text transform="translate(363.30 366.90) scale(0.880 1)" font-size="25.25" text-anchor="middle" x="6.25 20.45">70</text>
<text transform="translate(363.30 223.90) scale(0.880 1)" font-size="25.25" text-anchor="middle" x="6.25 20.45">80</text>
<text transform="translate(2934.00 1393.90) scale(0.880 1)" font-size="25.25" text-anchor="middle" x="6.25 17.05 34.66 48.86">0.00</text>
<text transform="translate(2934.00 1244.90) scale(0.880 1)" font-size="25.25" text-anchor="middle" x="6.25 17.05 34.66 48.86">0.02</text>
<text transform="translate(2934.00 1095.90) scale(0.880 1)" font-size="25.25" text-anchor="middle" x="6.25 17.05 34.66 48.86">0.04</text>
<text transform="translate(2934.00 946.90) scale(0.880 1)" font-size="25.25" text-anchor="middle" x="6.25 17.05 34.66 48.86">0.06</text>
<text transform="translate(2934.00 797.90) scale(0.880 1)" font-size="25.25" text-anchor="middle" x="6.25 17.05 34.66 48.86">0.08</text>
<text transform="translate(2934.00 648.90) scale(0.880 1)" font-size="25.25" text-anchor="middle" x="6.25 17.05 33.24 48.86">0.10</text>
<text transform="translate(2934.00 499.90) scale(0.880 1)" font-size="25.25" text-anchor="middle" x="6.25 17.05 33.24 48.86">0.12</text>
<text transform="translate(2934.00 350.90) scale(0.880 1)" font-size="25.25" text-anchor="middle" x="6.25 17.05 33.24 48.86">0.14</text>
<text transform="translate(470.75 1476.30) scale(0.880 1)" font-size="25.25" text-anchor="middle" x="6.25 20.45 34.66 48.86 63.07 77.27 90.06">2023-01</text>
<text transform="translate(757.75 1476.30) scale(0.880 1)" font-size="25.25" text-anchor="middle" x="6.25 20.45 34.66 48.86 63.07 77.27 91.48">2023-05</text>
<text transform="translate(1051.75 1476.30) scale(0.880 1)" font-size="25.25" text-anchor="middle" x="6.25 20.45 34.66 48.86 63.07 77.27 91.48">2023-09</text>
<text transform="translate(1343.75 1476.30) scale(0.880 1)" font-size="25.25" text-anchor="middle" x="6.25 20.45 34.66 48.86 63.07 77.27 90.06">2024-01</text>
<text transform="translate(1632.75 1476.30) scale(0.880 1)" font-size="25.25" text-anchor="middle" x="6.25 20.45 34.66 48.86 63.07 77.27 91.48">2024-05</text>
<text transform="translate(1926.75 1476.30) scale(0.880 1)" font-size="25.25" text-anchor="middle" x="6.25 20.45 34.66 48.86 63.07 77.27 91.48">2024-09</text>
<text transform="translate(2218.75 1476.30) scale(0.880 1)" font-size="25.25" text-anchor="middle" x="6.25 20.45 34.66 48.86 63.07 77.27 90.06">2025-01</text>
<text transform="translate(2504.75 1476.30) scale(0.880 1)" font-size="25.25" text-anchor="middle" x="6.25 20.45 34.66 48.86 63.07 77.27 91.48">2025-05</text>
<text transform="translate(2798.75 1476.30) scale(0.880 1)" font-size="25.25" text-anchor="middle" x="6.25 20.45 34.66 48.86 63.07 77.27 91.48">2025-09</text>
<text transform="translate(1182.38 177.90) scale(0.880 1)" font-size="37.88" text-anchor="middle" x="9.38 30.68 51.99 73.30 94.60 115.91 137.22 158.52 179.83 201.14 222.44 243.75 265.06 289.35 307.67 328.98 350.28 371.59 392.90 412.07 435.51 456.82 472.16 499.43 520.74 542.05 563.35 584.66 605.97 627.27 646.45 669.89 688.21 706.53 733.81 755.11 776.42 797.73 819.03 840.34 861.65 882.95 904.26 925.57 946.88 968.18 989.49 1010.80 1032.10 1053.41 1074.72">ic tracking: (20230103, 20250815), green: net maxdd</text>
</svg></body></html>
